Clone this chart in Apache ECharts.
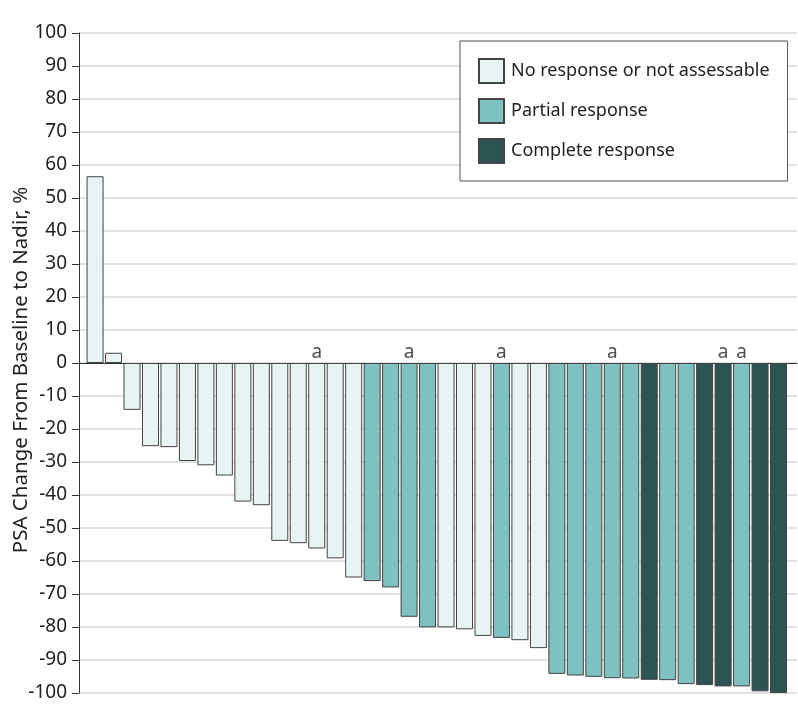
<!DOCTYPE html>
<html>
<head>
<meta charset="utf-8">
<script src="https://cdn.jsdelivr.net/npm/echarts@6/dist/echarts.min.js"></script>
<style>html,body{margin:0;padding:0;background:#fff}#c{width:798px;height:725px}</style>
</head>
<body>
<div id="c"></div>
<script>
// Patient order (1..38) and PSA change from baseline to nadir (%)
const patients = [1,2,3,4,5,6,7,8,9,10,11,12,13,14,15,16,17,18,19,20,21,22,23,24,25,26,27,28,29,30,31,32,33,34,35,36,37,38];
const psaChange = [56.6,3.1,-14.2,-25.2,-25.5,-29.7,-31.0,-34.1,-42.0,-43.1,-53.9,-54.6,-56.2,-59.2,-65.0,-66.1,-68.0,-76.9,-80.1,-80.1,-80.7,-82.7,-83.3,-84.0,-86.4,-94.2,-94.7,-95.1,-95.5,-95.6,-96.0,-96.1,-97.3,-97.6,-98.0,-98.0,-99.5,-100];
// N = no response or not assessable, P = partial response, C = complete response
const response = ['N','N','N','N','N','N','N','N','N','N','N','N','N','N','N','P','P','P','P','N','N','N','P','N','N','P','P','P','P','P','C','P','P','C','C','P','C','C'];
// footnote "a" markers
const footnoteA = [0,0,0,0,0,0,0,0,0,0,0,0,1,0,0,0,0,1,0,0,0,0,1,0,0,0,0,0,1,0,0,0,0,0,1,1,0,0];
const responseNames = {N:'No response or not assessable', P:'Partial response', C:'Complete response'};
const responseColors = {N:'#e8f4f4', P:'#7fc0c0', C:'#2b5453'};
const yTicks = [-100,-90,-80,-70,-60,-50,-40,-30,-20,-10,0,10,20,30,40,50,60,70,80,90,100];

const FONT = 'Noto Sans';
const chart = echarts.init(document.getElementById('c'), null, {renderer:'canvas'});

const barSeries = ['N','P','C'].map(k => ({
  name: responseNames[k],
  type: 'bar',
  barWidth: 17,
  barGap: '-100%',
  itemStyle: {color: responseColors[k], borderColor: '#444', borderWidth: 1},
  emphasis: {disabled: true},
  data: patients.map((p,i) => response[i] === k ? [p, psaChange[i]] : null).filter(d => d),
  z: 2
}));

const aSeries = {
  name: 'a',
  type: 'scatter',
  symbol: 'circle',
  symbolSize: 1,
  itemStyle: {color: 'rgba(0,0,0,0)'},
  silent: true,
  label: {show: true, position: 'top', distance: 0, formatter: 'a', color: '#222', fontFamily: FONT, fontSize: 19},
  data: patients.filter((p,i) => footnoteA[i]).map(p => [p, 0]),
  z: 3
};

chart.setOption({
  animation: false,
  backgroundColor: '#fff',
  grid: {left: 79, right: 1, top: 33, bottom: 32, containLabel: false, outerBoundsMode: 'none'},
  xAxis: {
    type: 'value', min: 0.13, max: 39.0,
    axisLine: {show: true, onZero: true, lineStyle: {color: '#333', width: 1}},
    axisTick: {show: false}, axisLabel: {show: false}, splitLine: {show: false}
  },
  yAxis: {
    type: 'value', min: -100, max: 100, interval: 10,
    name: 'PSA Change From Baseline to Nadir, %',
    nameLocation: 'middle', nameGap: 47, nameMoveOverlap: false,
    nameTextStyle: {fontFamily: FONT, fontSize: 20.5, color: '#222', padding: [0, 14, 0, 0]},
    axisLine: {show: true, lineStyle: {color: '#333', width: 1}},
    axisTick: {show: true, length: 7, lineStyle: {color: '#333'}},
    axisLabel: {margin: 12, fontFamily: FONT, fontSize: 19, color: '#222',
      formatter: v => yTicks.includes(v) ? String(v) : ''},
    splitLine: {show: true, lineStyle: {color: '#d9d9d9', width: 1.5}}
  },
  legend: {
    orient: 'vertical', left: 460, top: 41,
    padding: [17, 18, 17, 18],
    itemWidth: 25, itemHeight: 24, itemGap: 14,
    borderColor: '#555', borderWidth: 1, backgroundColor: '#fff',
    icon: 'rect',
    data: [responseNames.N, responseNames.P, responseNames.C],
    textStyle: {fontFamily: FONT, fontSize: 18, color: '#222', padding: [0,0,0,2]},
    selectedMode: false
  },
  series: [...barSeries, aSeries]
});
</script>
</body>
</html>
